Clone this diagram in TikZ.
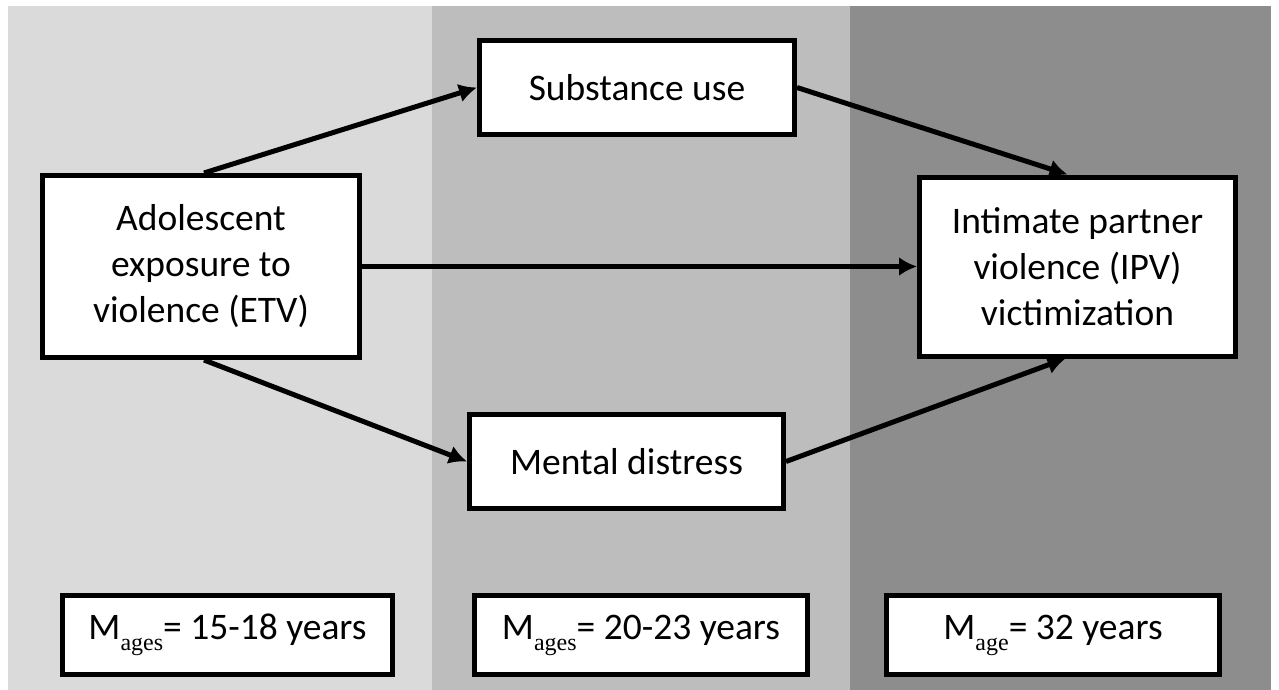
\documentclass[tikz,border=0pt]{standalone}
\usepackage{fontspec}
\setmainfont{Carlito}
\newfontfamily\subserif{Liberation Serif}
\usetikzlibrary{arrows.meta}
\definecolor{bandA}{HTML}{DADADA}
\definecolor{bandB}{HTML}{BDBDBD}
\definecolor{bandC}{HTML}{8D8D8D}
\newcommand{\Msub}[1]{M\raisebox{-11pt}{\subserif\fontsize{24}{24}\selectfont #1}}
\tikzset{
  box/.style={draw=black, fill=white, line width=5pt, rectangle, inner sep=0pt,
    align=center, font=\fontsize{37.5}{46}\selectfont},
  link/.style={line width=5pt, -{Latex[length=18pt,width=19pt]}},
}
\begin{document}
\begin{tikzpicture}[x=1pt,y=-1pt]
\useasboundingbox (0,0) rectangle (1279,690);
\fill[white] (0,0) rectangle (1279,690);
\fill[bandA] (8,6) rectangle (432,690);
\fill[bandB] (432,6) rectangle (850,690);
\fill[bandC] (850,6) rectangle (1271,690);

\node[box, minimum width=317pt, minimum height=182pt] (etv) at (201,266.5)
  {Adolescent\\exposure to\\violence (ETV)};
\node[box, minimum width=315pt, minimum height=94pt] (sub) at (637,87.5)
  {Substance use};
\node[box, minimum width=314pt, minimum height=94pt] (men) at (626.5,461.5)
  {Mental distress};
\node[box, minimum width=316pt, minimum height=179pt] (ipv) at (1077.5,266.5)
  {Intimate partner\\violence (IPV)\\victimization};

\node[box, minimum width=330pt, minimum height=79pt] (age1) at (227.5,635)
  {\Msub{ages}= 15-18 years};
\node[box, minimum width=333pt, minimum height=79pt] (age2) at (641,635)
  {\Msub{ages}= 20-23 years};
\node[box, minimum width=333pt, minimum height=79pt] (age3) at (1053,635)
  {\Msub{age}= 32 years};

\draw[link] ([xshift=3pt]etv.north) -- (sub.west);
\draw[link] (sub.east) -- ([xshift=-10pt]ipv.north);
\draw[link] (etv.east) -- (ipv.west);
\draw[link] ([xshift=3pt]etv.south) -- (men.west);
\draw[link] (men.east) -- ([xshift=-12pt]ipv.south);
\end{tikzpicture}
\end{document}
